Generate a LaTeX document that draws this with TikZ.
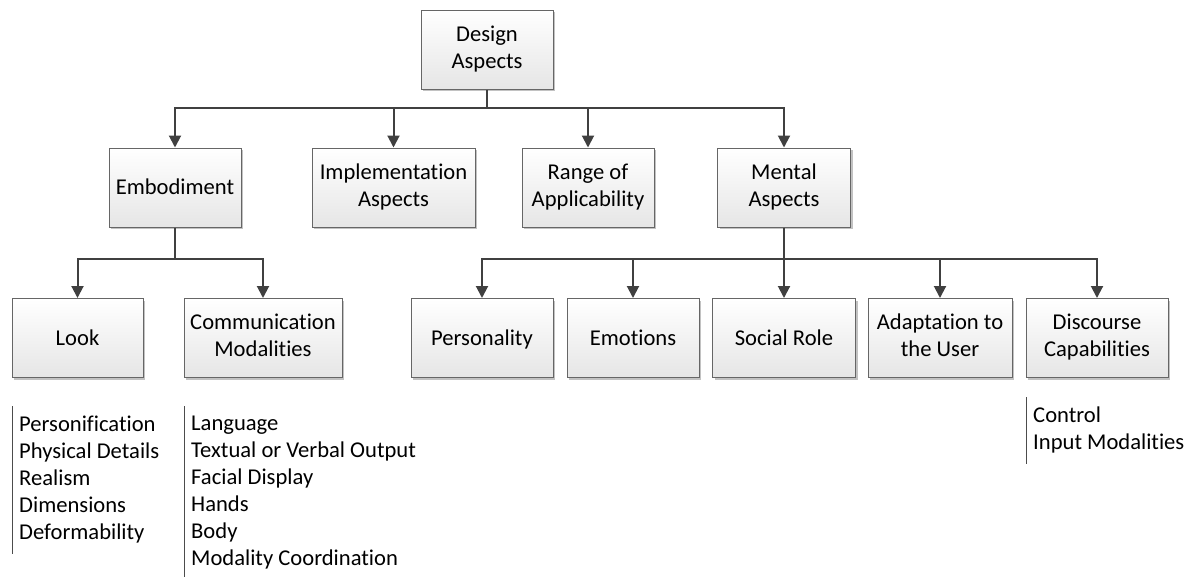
\documentclass[tikz,border=0pt]{standalone}
\usepackage{fontspec}
\setmainfont{Carlito}[Ligatures=NoCommon]
\usetikzlibrary{arrows.meta,shadows}
\newcommand{\boxtop}{\rule{0pt}{19pt}}
\newcommand{\boxbot}{\rule[-5pt]{0pt}{5pt}}

\begin{document}
\begin{tikzpicture}[x=1pt,y=-1pt]
				\useasboundingbox (0,0) rectangle (1192,576);
				\tikzstyle{every node}=[font=\fontsize{22.6}{27}\selectfont]
				\tikzstyle{box}=[draw=black!60, line width=1pt, top color=white,
				bottom color=black!10, minimum height=79pt, inner sep=2pt, align=center,
				execute at begin node=\boxtop, execute at end node=\boxbot,
				drop shadow={shadow xshift=2pt,shadow yshift=-2pt,fill=black!40,opacity=.6}]
				\tikzstyle{link}=[draw=black!75, line width=2pt]
				\tikzstyle{arr}=[link, -{Triangle[width=12pt,length=12pt]}]
				\tikzstyle{list}=[anchor=north west, align=left, inner xsep=7pt, inner ysep=10pt]
				\tikzstyle{rule}=[draw=black!70, line width=1pt]
				% root
				\node[box, minimum width=132pt] (design) at (487,49.5) {Design\\Aspects};
				% level 1
				\node[box, minimum width=132pt] (embod) at (175,187.5) {Embodiment};
				\node[box, minimum width=163pt] (impl) at (393.5,187.5) {Implementation\\Aspects};
				\node[box, minimum width=132pt] (range) at (588,187.5) {Range of\\Applicability};
				\node[box, minimum width=133pt] (mental) at (784,187.5) {Mental\\Aspects};
				% level 2
				\node[box, minimum width=131pt] (look) at (77.5,338) {Look};
				\node[box, minimum width=158pt] (comm) at (263,338) {Communication\\Modalities};
				\node[box, minimum width=142pt] (person) at (482,338) {Personality};
				\node[box, minimum width=132pt] (emot) at (633,338) {Emotions};
				\node[box, minimum width=143pt] (social) at (784,338) {Social Role};
				\node[box, minimum width=144pt] (adapt) at (940,338) {Adaptation to\\the User};
				\node[box, minimum width=142pt] (disc) at (1097,338) {Discourse\\Capabilities};
				% connectors
				\coordinate (bus1) at (487,108);
				\coordinate (bus2) at (175,259);
				\coordinate (bus3) at (784,259);
				\draw[link] (design) -- (bus1);
				\foreach \n in {embod,impl,range,mental}
					\draw[arr] (bus1) -| (\n.north);
				\draw[link] (embod) -- (bus2);
				\foreach \n in {look,comm}
					\draw[arr] (bus2) -| (\n.north);
				\draw[link] (mental) -- (bus3);
				\foreach \n in {person,emot,social,adapt,disc}
					\draw[arr] (bus3) -| (\n.north);
				% lists
				\node[list] (lookList) at (12,406) {Personification\\Physical Details\\Realism\\Dimensions\\Deformability};
				\node[list] (commList) at (184,406) {Language\\Textual or Verbal Output\\Facial Display\\Hands\\Body\\Modality Coordination};
				\node[list] (discList) at (1026,397) {Control\\Input Modalities};
				\foreach \n in {lookList,commList,discList}
					\draw[rule] (\n.north west) -- (\n.south west);
\end{tikzpicture}
\end{document}
